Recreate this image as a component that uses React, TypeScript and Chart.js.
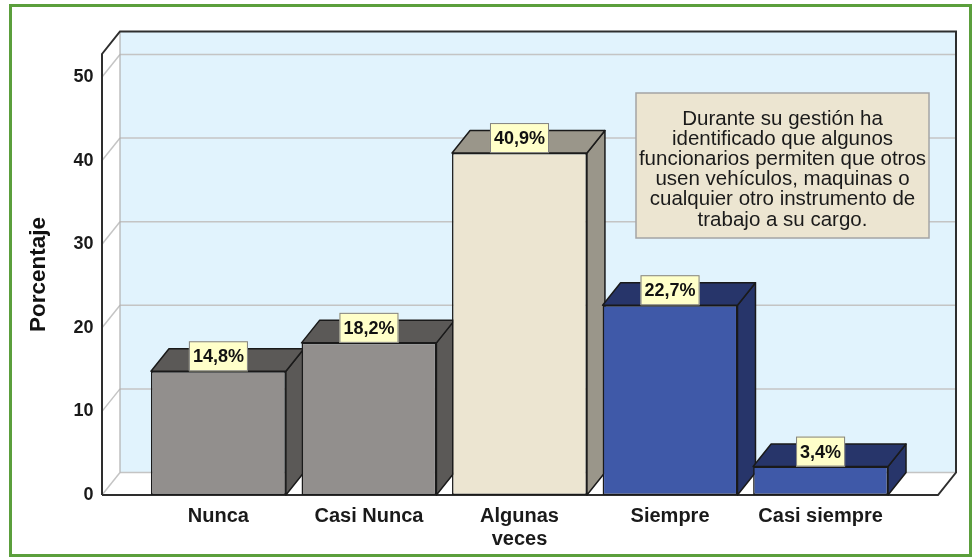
import React, { useEffect, useRef } from 'react';
import { Chart, registerables } from 'chart.js';

Chart.register(...registerables);

// ---- data ----
const categories: string[][] = [['Nunca'], ['Casi Nunca'], ['Algunas', 'veces'], ['Siempre'], ['Casi siempre']];
const percentages: number[] = [14.8, 18.2, 40.9, 22.7, 3.4];
const yTickValues: number[] = [0, 10, 20, 30, 40, 50];
const yAxisTitle = 'Porcentaje';
const noteLines: string[] = [
  'Durante su gestión ha',
  'identificado que algunos',
  'funcionarios permiten que otros',
  'usen vehículos, maquinas o',
  'cualquier otro instrumento de',
  'trabajo a su cargo.',
];

// ---- styles ----
const frontColors = ['#928f8d', '#928f8d', '#ece5d1', '#3f59a8', '#3f59a8'];
const shadeColors = ['#5b5957', '#5b5957', '#9a968a', '#27356a', '#27356a'];
const FONT = "'Liberation Sans', Arial, sans-serif";
const DX = 18;
const DY = -22.5;

function poly(ctx: CanvasRenderingContext2D, pts: number[][], fill: string | null, stroke?: string, lw = 1) {
  ctx.beginPath();
  ctx.moveTo(pts[0][0], pts[0][1]);
  for (let i = 1; i < pts.length; i++) ctx.lineTo(pts[i][0], pts[i][1]);
  ctx.closePath();
  if (fill) {
    ctx.fillStyle = fill;
    ctx.fill();
  }
  if (stroke) {
    ctx.strokeStyle = stroke;
    ctx.lineWidth = lw;
    ctx.lineJoin = 'round';
    ctx.stroke();
  }
}

function seg(ctx: CanvasRenderingContext2D, x1: number, y1: number, x2: number, y2: number) {
  ctx.beginPath();
  ctx.moveTo(x1, y1);
  ctx.lineTo(x2, y2);
  ctx.stroke();
}

const threeD = {
  id: 'threeD',
  beforeDatasetsDraw(chart: any) {
    const { ctx } = chart;
    const { left: L, right: R, top: T, bottom: B } = chart.chartArea;
    const ys = chart.scales.y;
    ctx.save();
    // back wall
    ctx.fillStyle = '#e1f3fd';
    ctx.fillRect(L + DX, T + DY, R - L, B - T);
    // left wall and floor
    poly(ctx, [[L, T], [L + DX, T + DY], [L + DX, B + DY], [L, B]], '#ffffff');
    poly(ctx, [[L, B], [R, B], [R + DX, B + DY], [L + DX, B + DY]], '#ffffff');
    // grid lines
    ctx.strokeStyle = '#c4c4c4';
    ctx.lineWidth = 1.5;
    yTickValues.forEach((v) => {
      const py = ys.getPixelForValue(v);
      seg(ctx, L, py, L + DX, py + DY);
      seg(ctx, L + DX, py + DY, R + DX, py + DY);
    });
    // back-left edge
    ctx.strokeStyle = '#b0b0b0';
    ctx.lineWidth = 1.2;
    seg(ctx, L + DX, T + DY, L + DX, B + DY);
    // dark outline
    ctx.strokeStyle = '#2e2e2e';
    ctx.lineWidth = 2;
    ctx.beginPath();
    ctx.moveTo(L, B);
    ctx.lineTo(L, T);
    ctx.lineTo(L + DX, T + DY);
    ctx.lineTo(R + DX, T + DY);
    ctx.lineTo(R + DX, B + DY);
    ctx.lineTo(R, B);
    ctx.lineTo(L, B);
    ctx.stroke();
    // bar top and side faces
    const meta = chart.getDatasetMeta(0);
    meta.data.forEach((bar: any, i: number) => {
      const { x, y, base, width } = bar.getProps(['x', 'y', 'base', 'width'], true);
      const xl = x - width / 2;
      const xr = x + width / 2;
      poly(ctx, [[xr, y], [xr + DX, y + DY], [xr + DX, base + DY], [xr, base]], shadeColors[i], '#1a1a1a', 1.5);
      poly(ctx, [[xl, y], [xr, y], [xr + DX, y + DY], [xl + DX, y + DY]], shadeColors[i], '#1a1a1a', 1.5);
    });
    ctx.restore();
  },
  afterDatasetsDraw(chart: any) {
    const { ctx } = chart;
    const { left: L, top: T } = chart.chartArea;
    ctx.save();
    // value labels
    ctx.font = `bold 18px ${FONT}`;
    ctx.textAlign = 'center';
    ctx.textBaseline = 'middle';
    const meta = chart.getDatasetMeta(0);
    meta.data.forEach((bar: any, i: number) => {
      const { x, y } = bar.getProps(['x', 'y'], true);
      const txt = percentages[i].toFixed(1).replace('.', ',') + '%';
      const w = ctx.measureText(txt).width + 8;
      const h = 30;
      ctx.fillStyle = '#ffffc9';
      ctx.fillRect(x - w / 2, y - h, w, h);
      ctx.strokeStyle = '#808080';
      ctx.lineWidth = 1;
      ctx.strokeRect(x - w / 2 + 0.5, y - h + 0.5, w - 1, h - 1);
      ctx.fillStyle = '#111111';
      ctx.fillText(txt, x, y - h / 2 + 1);
    });
    // note box
    const bx = L + 534;
    const by = T + 39;
    const bw = 293;
    const bh = 145;
    ctx.fillStyle = '#ece5d1';
    ctx.fillRect(bx, by, bw, bh);
    ctx.strokeStyle = '#a4a4a4';
    ctx.lineWidth = 1.5;
    ctx.strokeRect(bx, by, bw, bh);
    ctx.fillStyle = '#1a1a1a';
    ctx.font = `20.5px ${FONT}`;
    ctx.textBaseline = 'alphabetic';
    noteLines.forEach((ln, i) => {
      ctx.fillText(ln, bx + bw / 2, by + 32 + i * 20.1);
    });
    ctx.restore();
  },
};

export default function App() {
  const ref = useRef<HTMLCanvasElement>(null);
  useEffect(() => {
    const chart = new Chart(ref.current as HTMLCanvasElement, {
      type: 'bar',
      data: {
        datasets: [
          {
            data: percentages.map((v, i) => ({ x: i, y: v })),
            backgroundColor: frontColors,
            borderColor: '#1a1a1a',
            borderWidth: 1.5,
            borderSkipped: false,
            categoryPercentage: 1,
            barPercentage: 0.896,
          },
        ],
      },
      options: {
        animation: false,
        responsive: true,
        maintainAspectRatio: false,
        layout: { padding: { left: 0, right: 34, top: 54, bottom: 0 } },
        plugins: { legend: { display: false }, tooltip: { enabled: false }, title: { display: false } },
        scales: {
          x: {
            type: 'linear',
            min: -0.7733,
            max: 4.78,
            offset: false,
            grid: { display: false, drawTicks: false, offset: false },
            border: { display: false },
            afterBuildTicks: (scale: any) => {
              scale.ticks = categories.map((_, i) => ({ value: i }));
            },
            afterFit: (scale: any) => {
              scale.height = 62;
            },
            ticks: {
              autoSkip: false,
              maxRotation: 0,
              padding: 10,
              color: '#1a1a1a',
              font: { family: FONT, size: 20, weight: 'bold', lineHeight: 1.15 },
              callback: (v: any) => categories[Math.round(Number(v))] ?? '',
            },
          },
          y: {
            type: 'linear',
            min: 0,
            max: 52.75,
            grid: { display: false, drawTicks: false },
            border: { display: false },
            afterBuildTicks: (scale: any) => {
              scale.ticks = yTickValues.map((v) => ({ value: v }));
            },
            afterFit: (scale: any) => {
              scale.width = 102;
            },
            ticks: {
              padding: 8.5,
              color: '#1a1a1a',
              font: { family: FONT, size: 18, weight: 'bold' },
            },
            title: {
              display: true,
              text: yAxisTitle,
              color: '#111111',
              font: { family: FONT, size: 22.5, weight: 'bold' },
              padding: { top: 25, bottom: 0 },
            },
          },
        },
      },
      plugins: [threeD],
    } as any);
    return () => chart.destroy();
  }, []);
  return (
    <div style={{ position: 'absolute', left: 0, top: 0, width: 972, height: 557, background: '#ffffff' }}>
      <canvas ref={ref} />
      <div
        style={{
          position: 'absolute',
          left: 9,
          top: 4,
          width: 963,
          height: 553,
          boxSizing: 'border-box',
          border: '3px solid #5b9f3c',
          pointerEvents: 'none',
        }}
      />
    </div>
  );
}
